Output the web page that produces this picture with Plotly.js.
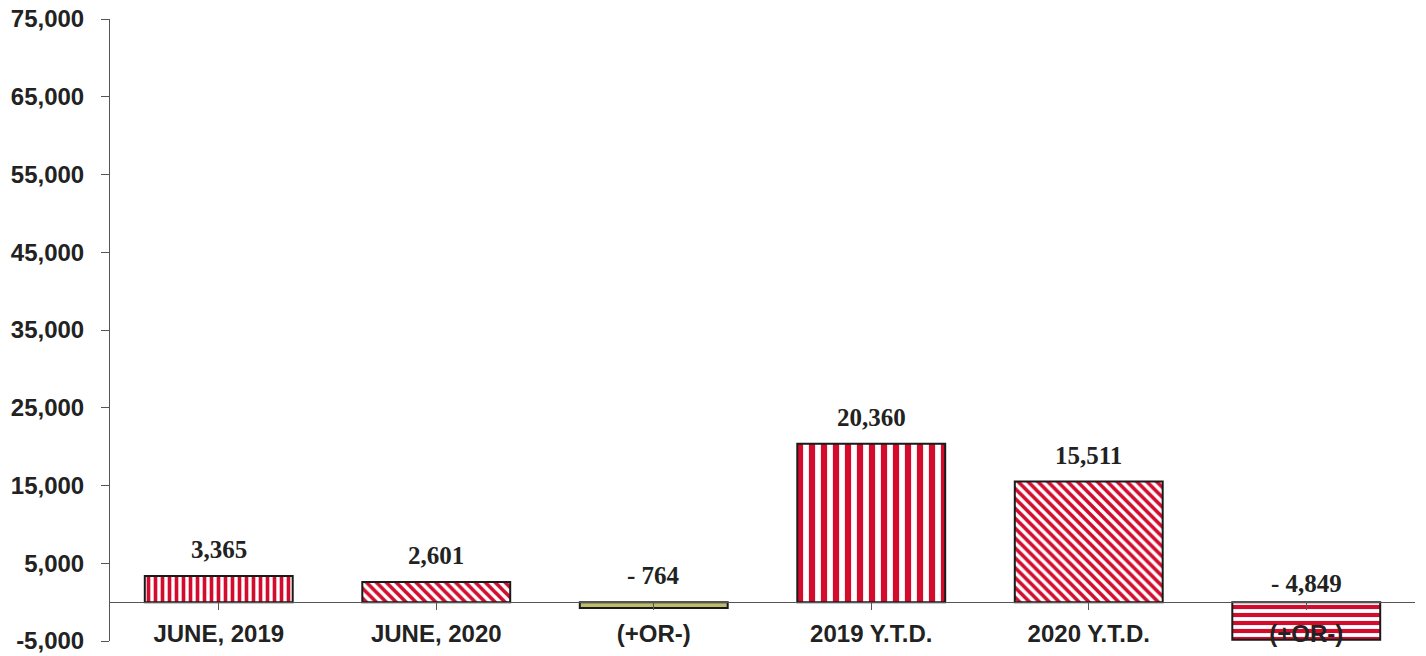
<!DOCTYPE html>
<html><head><meta charset="utf-8">
<script src="https://cdn.plot.ly/plotly-3.0.1.min.js"></script>
<style>html,body{margin:0;padding:0;background:#fff}#chart{width:1426px;height:656px}</style>
</head><body><div id="chart"></div>
<script>
const categories = ['JUNE, 2019', 'JUNE, 2020', '(+OR-)', '2019 Y.T.D.', '2020 Y.T.D.', '(+OR-)'];
const values = [3365, 2601, -764, 20360, 15511, -4849];
const patternShapes = ['|', '\\', '', '|', '\\', '-'];
const patternSizes = [7, 7, 8, 12, 7, 8];
const barColors = ['#d30c2e', '#d30c2e', '#bdbd6c', '#d30c2e', '#d30c2e', '#d30c2e'];
const yTickVals = [-5000, 5000, 15000, 25000, 35000, 45000, 55000, 65000, 75000];
const yTickText = ['-5,000', '5,000', '15,000', '25,000', '35,000', '45,000', '55,000', '65,000', '75,000'];

const xIdx = categories.map((c, i) => i);

function fmt(v) {
  const s = Math.abs(v).toLocaleString('en-US');
  return v < 0 ? '- ' + s : s;
}

const trace = {
  type: 'bar',
  x: xIdx,
  y: values,
  width: 0.68,
  marker: {
    color: barColors,
    line: {color: '#1a1a1a', width: 2},
    pattern: {
      shape: patternShapes,
      size: patternSizes,
      solidity: 0.52,
      fillmode: 'replace'
    }
  },
  hoverinfo: 'skip'
};

const annotations = values.map((v, i) => ({
  x: i, y: Math.max(v, 0), xref: 'x', yref: 'y',
  text: fmt(v), showarrow: false, yanchor: 'bottom', yshift: v < -1000 ? 3 : 11,
  font: {family: 'Liberation Serif, Times New Roman, serif', size: 25, color: '#222', weight: 700}
}));

const layout = {
  width: 1426, height: 656,
  margin: {l: 110, r: 11, t: 19, b: 15},
  paper_bgcolor: '#fff', plot_bgcolor: '#fff',
  showlegend: false,
  xaxis: {
    range: [-0.5, 5.5],
    tickvals: xIdx, ticktext: categories,
    tickson: 'boundaries',
    anchor: 'free', position: 0.0625,
    showline: true, linecolor: '#555', linewidth: 1,
    ticks: 'outside', ticklen: 7, tickcolor: '#555',
    showgrid: false, zeroline: false,
    ticklabelstandoff: 3,
    tickfont: {family: 'Liberation Sans, Arial, sans-serif', size: 24, color: '#222', weight: 700}
  },
  yaxis: {
    range: [-5000, 75000],
    tickvals: yTickVals,
    ticktext: yTickText,
    showline: true, linecolor: '#555', linewidth: 1,
    ticks: 'outside', ticklen: 8, tickcolor: '#555',
    showgrid: false, zeroline: false,
    ticklabelstandoff: 12,
    tickfont: {family: 'Liberation Sans, Arial, sans-serif', size: 24, color: '#222', weight: 700}
  },
  annotations: annotations
};

Plotly.newPlot('chart', [trace], layout, {displayModeBar: false, staticPlot: true});
</script></body></html>
